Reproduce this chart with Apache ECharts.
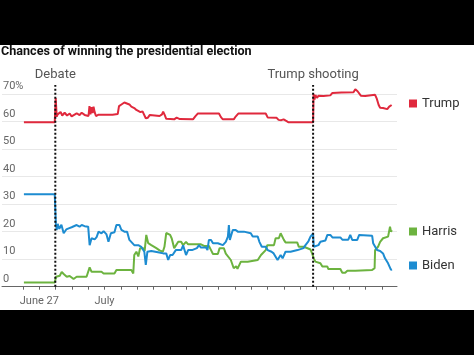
<!DOCTYPE html>
<html><head><meta charset="utf-8">
<script src="https://cdn.jsdelivr.net/npm/echarts@6/dist/echarts.min.js"></script>
<style>
html,body{margin:0;padding:0;background:#000;width:474px;height:355px;overflow:hidden;}
#band{position:absolute;left:0;top:45px;width:474px;height:265px;background:#fff;}
#chart{position:absolute;left:0;top:0;width:474px;height:355px;}
</style></head><body>
<div id="band"></div><div id="chart"></div>
<script>
// x values are days relative to June 27 (0 = June 27, 4 = July 1)
const seriesNames = ['Trump', 'Harris', 'Biden'];
const trumpPoints = [[-1.06,59.7],[0.84,59.7],[0.88,59.8],[0.9,68.5],[0.96,61.8],[1.02,62.6],[1.1,62.0],[1.2,63.5],[1.3,62.2],[1.45,63.2],[1.6,62.2],[1.76,62.9],[1.88,61.9],[2.0,62.6],[2.19,63.0],[2.37,62.3],[2.5,63.2],[2.68,62.4],[2.8,62.9],[2.92,62.0],[2.98,65.6],[3.04,62.6],[3.1,65.2],[3.17,63.1],[3.23,65.4],[3.3,63.4],[3.38,62.0],[3.45,61.7],[3.54,62.5],[4.0,62.5],[4.4,62.5],[4.72,62.7],[4.8,65.6],[4.95,66.2],[5.13,66.9],[5.25,66.4],[5.44,66.2],[5.56,65.4],[5.74,64.9],[5.87,64.2],[5.99,64.0],[6.12,63.4],[6.25,63.7],[6.36,63.0],[6.45,61.2],[6.58,61.4],[6.7,62.4],[7.0,62.2],[7.3,62.0],[7.45,62.6],[7.52,63.6],[7.62,62.3],[7.71,61.0],[7.83,60.8],[8.2,60.8],[8.35,61.4],[8.44,62.1],[8.55,60.9],[8.63,60.8],[9.36,60.8],[9.5,61.9],[9.65,62.9],[10.96,62.9],[11.08,61.6],[11.2,60.8],[11.87,60.8],[12.0,61.9],[12.15,62.9],[13.84,62.9],[13.96,61.5],[14.5,61.4],[14.57,61.0],[14.63,60.6],[14.7,61.3],[14.8,60.5],[14.94,60.8],[15.08,60.3],[15.25,59.7],[16.76,59.7],[16.79,70.0],[16.85,68.0],[16.9,69.6],[17.0,68.6],[17.1,69.4],[17.4,69.3],[17.82,69.5],[17.95,70.4],[18.5,70.5],[19.25,70.6],[19.36,71.7],[19.5,71.0],[19.6,70.6],[19.7,69.4],[19.97,69.3],[20.07,69.8],[20.58,69.7],[20.69,68.2],[20.8,66.0],[20.89,65.0],[21.07,64.9],[21.19,64.3],[21.33,64.5],[21.45,65.4],[21.6,66.0]];
const harrisPoints = [[-1.06,1.5],[0.84,1.5],[0.88,1.7],[0.92,3.6],[1.02,3.2],[1.15,4.0],[1.27,5.4],[1.39,4.6],[1.58,3.6],[1.76,3.9],[1.88,3.3],[2.0,2.8],[2.19,3.6],[2.8,3.6],[2.92,4.0],[2.99,7.0],[3.11,5.4],[3.72,5.4],[3.85,4.8],[4.52,4.8],[4.64,6.1],[5.56,6.1],[5.68,4.8],[5.74,11.5],[5.87,12.7],[5.99,11.0],[6.1,14.0],[6.3,14.0],[6.38,13.0],[6.48,18.8],[6.6,15.8],[6.79,15.1],[7.1,14.0],[7.3,13.2],[7.5,12.7],[7.6,14.5],[7.71,19.5],[7.83,20.0],[7.95,18.8],[8.05,17.5],[8.2,14.0],[8.32,14.0],[8.45,16.3],[8.63,16.3],[8.75,15.1],[8.93,16.3],[9.06,15.4],[9.85,15.4],[10.04,14.8],[10.34,14.8],[10.47,13.3],[10.59,11.9],[10.89,11.9],[11.0,14.0],[11.26,14.0],[11.38,12.0],[11.69,9.7],[11.87,6.7],[11.95,6.3],[12.02,7.4],[12.1,6.5],[12.18,7.0],[12.31,9.1],[12.73,9.1],[12.8,9.7],[13.35,9.7],[13.55,11.5],[13.84,13.3],[13.94,15.1],[14.35,15.1],[14.45,17.6],[14.65,17.6],[14.76,19.4],[14.86,18.8],[14.96,17.0],[15.06,16.1],[15.78,16.1],[15.88,14.5],[16.19,14.5],[16.29,14.0],[16.6,13.5],[16.7,12.1],[16.8,10.3],[16.9,9.1],[17.21,8.5],[17.33,7.3],[17.64,7.3],[17.7,6.4],[18.44,6.4],[18.56,5.1],[18.74,5.1],[18.87,5.8],[19.36,5.8],[19.48,6.1],[20.4,6.1],[20.46,6.7],[20.55,6.7],[20.58,13.3],[20.76,14.5],[20.89,16.3],[21.07,17.6],[21.38,18.2],[21.5,21.8],[21.56,20.0],[21.62,20.5]];
const bidenPoints = [[-1.06,33.6],[0.84,33.6],[0.88,33.0],[0.91,23.0],[0.96,20.6],[1.02,22.8],[1.12,21.0],[1.25,22.5],[1.39,19.4],[1.55,20.8],[1.7,21.2],[1.88,21.6],[2.0,22.0],[2.19,22.4],[2.37,21.8],[2.5,22.4],[2.68,22.0],[2.8,22.6],[2.9,21.8],[2.99,15.1],[3.11,17.6],[3.3,17.2],[3.42,18.0],[3.54,20.0],[3.72,19.4],[3.85,20.2],[4.03,19.0],[4.15,16.3],[4.3,19.4],[4.52,19.8],[4.64,22.4],[4.83,22.4],[4.95,20.6],[5.13,20.0],[5.3,20.0],[5.44,17.0],[5.56,16.5],[5.74,15.1],[5.99,15.1],[6.17,14.5],[6.36,12.7],[6.45,7.9],[6.55,12.7],[6.79,13.0],[7.2,12.5],[7.52,12.1],[7.71,12.1],[7.83,9.7],[7.95,11.5],[8.1,11.5],[8.3,13.3],[8.63,13.3],[8.75,15.0],[8.81,15.0],[8.93,11.5],[9.06,13.3],[9.3,13.3],[9.42,14.0],[9.6,14.0],[9.73,15.1],[9.85,14.2],[10.16,14.2],[10.25,13.3],[10.34,17.0],[10.47,17.0],[10.59,15.8],[10.89,15.8],[11.0,15.1],[11.2,15.1],[11.26,14.5],[11.38,16.3],[11.51,18.2],[11.57,22.4],[11.63,17.0],[11.81,20.6],[11.99,20.6],[12.12,20.0],[12.49,20.0],[12.61,19.4],[12.92,19.4],[13.04,18.2],[13.35,18.2],[13.45,16.3],[13.6,14.5],[13.84,14.5],[13.96,13.3],[14.05,14.0],[14.2,12.7],[14.33,12.1],[14.45,12.7],[14.57,9.7],[14.63,9.7],[14.76,11.5],[14.88,10.3],[14.94,10.3],[15.06,12.7],[15.37,12.7],[15.49,13.3],[15.8,13.3],[15.86,14.0],[16.17,14.0],[16.29,15.1],[16.47,16.5],[16.6,18.2],[16.72,18.2],[16.76,19.4],[16.8,14.5],[16.9,15.1],[17.09,15.1],[17.21,16.3],[17.52,16.8],[17.64,18.8],[17.82,18.8],[17.95,17.9],[18.44,17.9],[18.56,17.1],[18.93,17.1],[19.05,18.8],[19.17,17.0],[19.48,17.0],[19.6,18.8],[19.66,18.5],[20.4,18.5],[20.46,15.8],[20.7,13.3],[20.89,13.0],[21.07,12.1],[21.19,10.3],[21.38,8.5],[21.56,6.1],[21.62,6.3]];
const eventDays = [0.875, 16.76];
const eventNames = ['Debate', 'Trump shooting'];
const eventTop = 73.3;
const tickDays = [0, 4];
const tickLabels = ['June 27', 'July'];
const colors = ['#e0293d', '#6cb33f', '#1d8cd1'];

const FONT = 'Roboto, "Noto Sans", sans-serif';
const chart = echarts.init(document.getElementById('chart'), null, {renderer: 'canvas'});

const dataSeries = [trumpPoints, harrisPoints, bidenPoints].map((pts, i) => ({
  name: seriesNames[i], type: 'line', xAxisIndex: 0, yAxisIndex: 0,
  data: pts, showSymbol: false, symbol: 'none', clip: false,
  lineStyle: {width: 2, color: colors[i]}, itemStyle: {color: colors[i]},
  z: 3, silent: true
}));
const eventSeries = eventDays.map((d, i) => ({
  type: 'line', xAxisIndex: 0, yAxisIndex: 0, clip: false, silent: true,
  symbol: 'circle', symbolSize: 1, showSymbol: true,
  itemStyle: {color: 'rgba(0,0,0,0)'},
  lineStyle: {color: '#111', width: 2, type: [2, 2]},
  data: [[d, 0], {value: [d, eventTop], label: {show: true, position: 'top', distance: 3,
    formatter: eventNames[i], color: '#555', fontSize: 13, fontFamily: FONT}}],
  z: 5
}));

const legends = seriesNames.map((n, i) => ({
  data: [n], left: 409, top: [97, 225, 259][i], padding: 0, itemWidth: 8, itemHeight: 8,
  icon: 'rect', selectedMode: false,
  textStyle: {fontSize: 13, color: '#333', fontFamily: FONT}
}));

chart.setOption({
  animation: false,
  backgroundColor: 'transparent',
  title: {text: 'Chances of winning the presidential election', left: 1, top: 45, padding: 0,
    textStyle: {fontFamily: FONT, fontWeight: 'bold', fontSize: 12.6, color: '#111'}},
  legend: legends,
  grid: [
    {left: 0, top: 94, width: 397, height: 192.7},
    {left: 23.0, top: 94, width: 358.8, height: 192.7}
  ],
  xAxis: [
    {type: 'value', gridIndex: 0, min: -2.41, max: 21.93,
      axisLine: {show: true, lineStyle: {color: '#666', width: 1}},
      axisTick: {show: false}, axisLabel: {show: false}, splitLine: {show: false}},
    {type: 'value', gridIndex: 1, min: -1, max: 21, interval: 1,
      axisLine: {show: false},
      axisTick: {show: true, length: 3, lineStyle: {color: '#666'}},
      axisLabel: {margin: 9, fontSize: 11, color: '#666', fontFamily: FONT,
        formatter: v => { const k = tickDays.indexOf(v); return k >= 0 ? tickLabels[k] : ''; }},
      splitLine: {show: false}}
  ],
  yAxis: [
    {type: 'value', gridIndex: 0, min: 0, max: 70, interval: 10,
      axisLine: {show: false}, axisTick: {show: false},
      splitLine: {lineStyle: {color: '#e8e8e8', width: 1}},
      axisLabel: {inside: true, margin: 1, verticalAlign: 'bottom', padding: [0, 0, 2, 0],
        fontSize: 11, color: '#666', fontFamily: FONT,
        formatter: v => v === 70 ? '70%' : String(v)}},
    {type: 'value', gridIndex: 1, min: 0, max: 70, show: false}
  ],
  series: dataSeries.concat(eventSeries)
});
</script>
</body></html>
